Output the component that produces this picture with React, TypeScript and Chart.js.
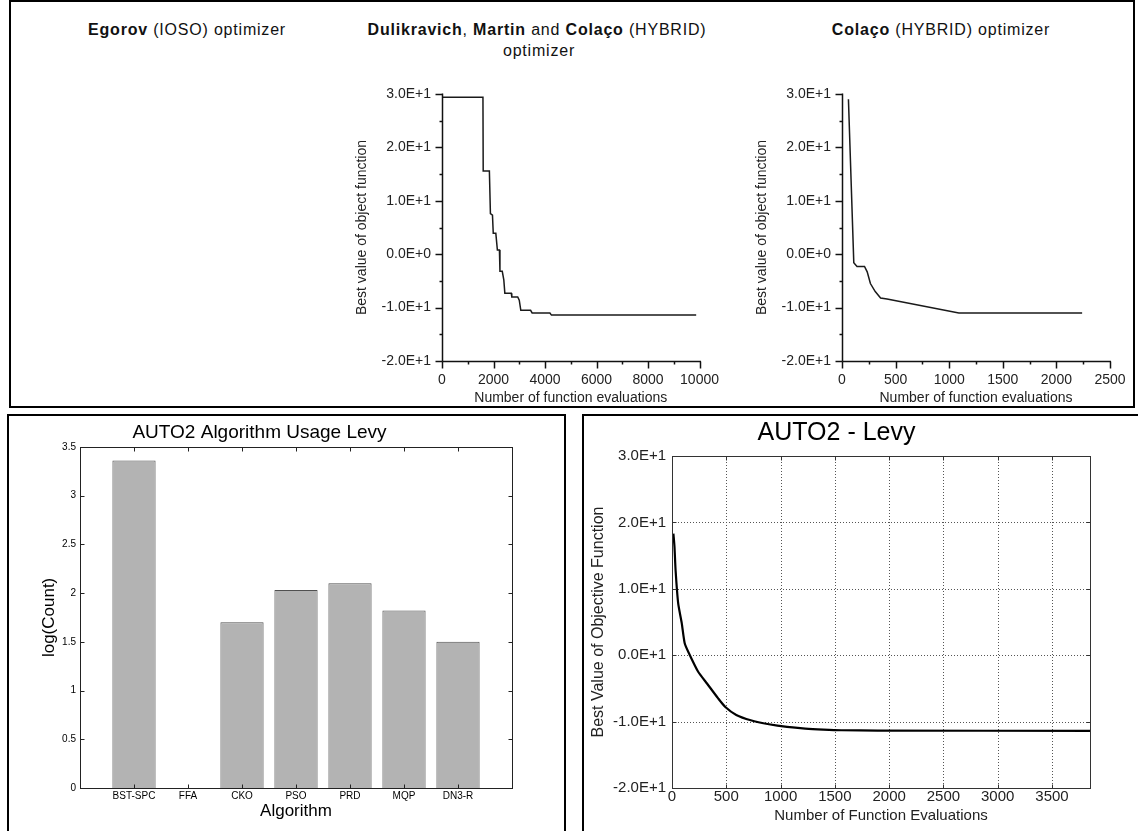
import React, { useEffect, useRef } from 'react';
import { Chart, registerables } from 'chart.js';

Chart.register(...registerables);

const FONT = "'Liberation Sans', Arial, Helvetica, sans-serif";

// ---- Top-middle: Dulikravich, Martin and Colaço (HYBRID) optimizer ----
const hybridEvals = [0, 1590, 1600, 1840, 1880, 1960, 1990, 2090, 2150, 2230, 2250, 2340, 2400, 2440, 2690, 2710, 2940, 3000, 3060, 3440, 3500, 4190, 4250, 9870];
const hybridBest = [29.4, 29.4, 15.6, 15.6, 7.6, 7.3, 3.9, 3.9, 0.8, 0.8, -3.2, -3.2, -4.8, -7.3, -7.3, -8.0, -8.0, -8.6, -10.5, -10.5, -11.0, -11.0, -11.4, -11.4];
const hybridXTicks = [0, 2000, 4000, 6000, 8000, 10000];

// ---- Top-right: Colaço (HYBRID) optimizer ----
const colacoEvals = [60, 110, 140, 210, 235, 265, 310, 360, 420, 1090, 2240];
const colacoBest = [29.0, -1.6, -2.3, -2.3, -3.3, -5.5, -7.0, -8.2, -8.4, -11.0, -11.0];
const colacoXTicks = [0, 500, 1000, 1500, 2000, 2500];

const topYTicks = [-20, -10, 0, 10, 20, 30];
const topYTickLabels = ['-2.0E+1', '-1.0E+1', '0.0E+0', '1.0E+1', '2.0E+1', '3.0E+1'];

// ---- Bottom-left: AUTO2 Algorithm Usage Levy ----
const algorithms = ['BST-SPC', 'FFA', 'CKO', 'PSO', 'PRD', 'MQP', 'DN3-R'];
const logCounts = [3.36, 0, 1.7, 2.03, 2.1, 1.82, 1.5];
const barYTicks = [0, 0.5, 1, 1.5, 2, 2.5, 3, 3.5];

// ---- Bottom-right: AUTO2 - Levy ----
const levyEvals = [13, 23, 33, 57, 90, 117, 157, 241, 324, 425, 491, 592, 725, 893, 1060, 1227, 1394, 1561, 1895, 3850];
const levyBest = [18.3, 16.3, 12.8, 7.8, 4.8, 1.8, 0.25, -2.5, -4.3, -6.5, -7.8, -9.0, -9.8, -10.4, -10.8, -11.05, -11.2, -11.3, -11.35, -11.4];
const levyXTicks = [0, 500, 1000, 1500, 2000, 2500, 3000, 3500];
const levyYTicks = [-20, -10, 0, 10, 20, 30];
const levyYTickLabels = ['-2.0E+1', '-1.0E+1', '0.0E+1', '1.0E+1', '2.0E+1', '3.0E+1'];

type DecorSpec = {
  box: boolean;
  color: string;
  width: number;
  tickLen: number;
  minorLen?: number;
  inside: boolean;
  mirror: boolean;
  grid?: { color: string; dash: number[] };
};

function setTicks(values: number[]) {
  return (s: any) => {
    s.ticks = values.map((v) => ({ value: v }));
  };
}

function makeDecor(spec: DecorSpec) {
  return {
    id: 'decor',
    beforeDatasetsDraw(chart: any) {
      if (!spec.grid) return;
      const { ctx, chartArea: a, scales } = chart;
      const x = scales.x;
      const y = scales.y;
      ctx.save();
      ctx.strokeStyle = spec.grid.color;
      ctx.lineWidth = 1;
      ctx.setLineDash(spec.grid.dash);
      x.ticks.forEach((t: any) => {
        const p = Math.round(x.getPixelForValue(t.value)) + 0.5;
        if (p > a.left + 2 && p < a.right - 2) {
          ctx.beginPath();
          ctx.moveTo(p, a.top);
          ctx.lineTo(p, a.bottom);
          ctx.stroke();
        }
      });
      y.ticks.forEach((t: any) => {
        const p = Math.round(y.getPixelForValue(t.value)) + 0.5;
        if (p > a.top + 2 && p < a.bottom - 2) {
          ctx.beginPath();
          ctx.moveTo(a.left, p);
          ctx.lineTo(a.right, p);
          ctx.stroke();
        }
      });
      ctx.restore();
    },
    afterDraw(chart: any) {
      const { ctx, chartArea: a, scales } = chart;
      const x = scales.x;
      const y = scales.y;
      ctx.save();
      ctx.strokeStyle = spec.color;
      ctx.lineWidth = spec.width;
      ctx.setLineDash([]);
      const line = (x1: number, y1: number, x2: number, y2: number) => {
        ctx.beginPath();
        ctx.moveTo(x1, y1);
        ctx.lineTo(x2, y2);
        ctx.stroke();
      };
      const L = Math.round(a.left) + 0.5;
      const R = Math.round(a.right) + 0.5;
      const T = Math.round(a.top) + 0.5;
      const B = Math.round(a.bottom) + 0.5;
      if (spec.box) {
        ctx.strokeRect(L, T, R - L, B - T);
      } else {
        line(L, T - 1, L, B);
        line(L, B, R + 0.5, B);
      }
      const dir = spec.inside ? -1 : 1;
      const drawX = (v: number, len: number) => {
        const p = Math.round(x.getPixelForValue(v)) + 0.5;
        line(p, B, p, B + dir * len);
        if (spec.mirror) line(p, T, p, T - dir * len);
      };
      const drawY = (v: number, len: number) => {
        const p = Math.round(y.getPixelForValue(v)) + 0.5;
        line(L, p, L - dir * len, p);
        if (spec.mirror) line(R, p, R + dir * len, p);
      };
      const xt = x.ticks.map((t: any) => t.value);
      const yt = y.ticks.map((t: any) => t.value);
      xt.forEach((v: number) => drawX(v, spec.tickLen));
      yt.forEach((v: number) => drawY(v, spec.tickLen));
      if (spec.minorLen) {
        for (let i = 1; i < xt.length; i++) drawX((xt[i - 1] + xt[i]) / 2, spec.minorLen);
        for (let i = 1; i < yt.length; i++) drawY((yt[i - 1] + yt[i]) / 2, spec.minorLen);
      }
      ctx.restore();
    },
  };
}

function topLineConfig(evals: number[], best: number[], xMax: number, xTicks: number[], padRight: number): any {
  return {
    type: 'line',
    data: {
      datasets: [
        {
          data: evals.map((v, i) => ({ x: v, y: best[i] })),
          borderColor: '#1a1a1a',
          borderWidth: 1.5,
          pointRadius: 0,
          tension: 0,
          fill: false,
        },
      ],
    },
    options: {
      animation: false,
      responsive: false,
      events: [],
      layout: { padding: { left: 0, top: 24, right: padRight, bottom: 0 } },
      plugins: { legend: { display: false }, tooltip: { enabled: false }, title: { display: false } },
      scales: {
        x: {
          type: 'linear',
          min: 0,
          max: xMax,
          offset: false,
          afterBuildTicks: setTicks(xTicks),
          afterFit: (s: any) => {
            s.height = 49;
          },
          ticks: {
            autoSkip: false,
            maxRotation: 0,
            padding: 11,
            color: '#222',
            font: { family: FONT, size: 14 },
            callback: (v: number) => String(v),
          },
          grid: { display: false, drawTicks: false },
          border: { display: false },
          title: {
            display: true,
            text: 'Number of function evaluations',
            color: '#222',
            font: { family: FONT, size: 14 },
            padding: { top: 0, bottom: 3 },
          },
        },
        y: {
          type: 'linear',
          min: -20,
          max: 30,
          afterBuildTicks: setTicks(topYTicks),
          afterFit: (s: any) => {
            s.width = 112;
          },
          ticks: {
            padding: 11,
            color: '#222',
            font: { family: FONT, size: 14 },
            callback: (v: number) => topYTickLabels[topYTicks.indexOf(v)],
          },
          grid: { display: false, drawTicks: false },
          border: { display: false },
          title: {
            display: true,
            text: 'Best value of object function',
            color: '#222',
            font: { family: FONT, size: 14 },
            padding: { top: 24, bottom: 0 },
          },
        },
      },
    },
    plugins: [makeDecor({ box: false, color: '#111', width: 1.5, tickLen: 7, minorLen: 3, inside: false, mirror: false })],
  };
}

function barConfig(): any {
  return {
    type: 'bar',
    data: {
      datasets: [
        {
          data: algorithms.map((a, i) => ({ x: i + 1, y: logCounts[i] })),
          backgroundColor: '#b3b3b3',
          borderColor: '#505050',
          borderWidth: (c: any) => (c.raw && c.raw.y === 0 ? 0 : 1),
          borderSkipped: 'start',
          categoryPercentage: 1,
          barPercentage: 0.8,
        },
      ],
    },
    options: {
      animation: false,
      responsive: false,
      events: [],
      layout: { padding: { left: 0, top: 0, right: 53, bottom: 0 } },
      plugins: {
        legend: { display: false },
        tooltip: { enabled: false },
        title: {
          display: true,
          text: 'AUTO2 Algorithm Usage Levy',
          color: '#000',
          font: { family: FONT, size: 19, weight: 'normal' },
          padding: { top: 6, bottom: 3 },
        },
      },
      scales: {
        x: {
          type: 'linear',
          min: 0,
          max: 8,
          offset: false,
          afterBuildTicks: setTicks(algorithms.map((_, i) => i + 1)),
          afterFit: (s: any) => {
            s.height = 43;
          },
          ticks: {
            autoSkip: false,
            maxRotation: 0,
            padding: 2,
            color: '#000',
            font: { family: FONT, size: 10 },
            callback: (v: number) => algorithms[v - 1] ?? '',
          },
          grid: { display: false, drawTicks: false, offset: false },
          border: { display: false },
          title: {
            display: true,
            text: 'Algorithm',
            color: '#000',
            font: { family: FONT, size: 17 },
            padding: { top: 0, bottom: 9 },
          },
        },
        y: {
          type: 'linear',
          min: 0,
          max: 3.5,
          afterBuildTicks: setTicks(barYTicks),
          afterFit: (s: any) => {
            s.width = 73;
          },
          ticks: {
            padding: 4,
            color: '#000',
            font: { family: FONT, size: 10 },
            callback: (v: number) => String(v),
          },
          grid: { display: false, drawTicks: false },
          border: { display: false },
          title: {
            display: true,
            text: 'log(Count)',
            color: '#000',
            font: { family: FONT, size: 17 },
            padding: { top: 32, bottom: 0 },
          },
        },
      },
    },
    plugins: [
      makeDecor({
        box: true,
        color: '#222',
        width: 1,
        tickLen: 4,
        inside: true,
        mirror: true,
      }),
    ],
  };
}

function levyConfig(): any {
  return {
    type: 'line',
    data: {
      datasets: [
        {
          data: levyEvals.map((v, i) => ({ x: v, y: levyBest[i] })),
          borderColor: '#000',
          borderWidth: 2.2,
          pointRadius: 0,
          tension: 0.2,
          fill: false,
        },
      ],
    },
    options: {
      animation: false,
      responsive: false,
      events: [],
      layout: { padding: { left: 0, top: 0, right: 48, bottom: 0 } },
      plugins: {
        legend: { display: false },
        tooltip: { enabled: false },
        title: {
          display: true,
          text: 'AUTO2 - Levy',
          color: '#000',
          font: { family: FONT, size: 25, weight: 'normal' },
          padding: { top: 3, bottom: 8 },
        },
      },
      scales: {
        x: {
          type: 'linear',
          min: 0,
          max: 3850,
          offset: false,
          afterBuildTicks: setTicks(levyXTicks),
          afterFit: (s: any) => {
            s.height = 43;
          },
          ticks: {
            autoSkip: false,
            maxRotation: 0,
            padding: 0,
            color: '#222',
            font: { family: FONT, size: 15 },
            callback: (v: number) => String(v),
          },
          grid: { display: false, drawTicks: false },
          border: { display: false },
          title: {
            display: true,
            text: 'Number of Function Evaluations',
            color: '#222',
            font: { family: FONT, size: 15 },
            padding: { top: 0, bottom: 6 },
          },
        },
        y: {
          type: 'linear',
          min: -20,
          max: 30,
          afterBuildTicks: setTicks(levyYTicks),
          afterFit: (s: any) => {
            s.width = 89;
          },
          ticks: {
            padding: 6,
            color: '#222',
            font: { family: FONT, size: 15 },
            callback: (v: number) => levyYTickLabels[levyYTicks.indexOf(v)],
          },
          grid: { display: false, drawTicks: false },
          border: { display: false },
          title: {
            display: true,
            text: 'Best Value of Objective Function',
            color: '#222',
            font: { family: FONT, size: 16 },
            padding: { top: 6, bottom: 0 },
          },
        },
      },
    },
    plugins: [
      makeDecor({
        box: true,
        color: '#333',
        width: 1,
        tickLen: 4,
        inside: true,
        mirror: true,
        grid: { color: '#555', dash: [1, 2] },
      }),
    ],
  };
}

function ChartBox(props: { left: number; top: number; width: number; height: number; make: () => any }) {
  const ref = useRef<HTMLCanvasElement | null>(null);
  useEffect(() => {
    const chart = new Chart(ref.current as HTMLCanvasElement, props.make());
    return () => chart.destroy();
  }, []);
  return (
    <div style={{ position: 'absolute', left: props.left, top: props.top, width: props.width, height: props.height }}>
      <canvas ref={ref} width={props.width} height={props.height} style={{ display: 'block', width: props.width, height: props.height }} />
    </div>
  );
}

const headStyle: React.CSSProperties = {
  position: 'absolute',
  transform: 'translateX(-50%)',
  whiteSpace: 'nowrap',
  fontSize: 16,
  lineHeight: '18px',
  letterSpacing: '0.8px',
  color: '#111',
  fontFamily: FONT,
};

export default function App() {
  return (
    <div
      style={{
        position: 'absolute',
        left: 0,
        top: 0,
        width: 1138,
        height: 831,
        overflow: 'hidden',
        background: '#fff',
        fontFamily: FONT,
      }}
    >
      {/* top frame */}
      <div style={{ position: 'absolute', left: 9, top: 0, width: 1126, height: 408, border: '2px solid #000', boxSizing: 'border-box' }} />
      {/* bottom-left frame */}
      <div style={{ position: 'absolute', left: 7, top: 414, width: 559, height: 440, border: '2px solid #000', boxSizing: 'border-box' }} />
      {/* bottom-right frame */}
      <div style={{ position: 'absolute', left: 582, top: 414, width: 620, height: 440, border: '2px solid #000', boxSizing: 'border-box' }} />

      <div style={{ ...headStyle, left: 187, top: 21 }}>
        <b>Egorov</b> (IOSO) optimizer
      </div>
      <div style={{ ...headStyle, left: 537, top: 21 }}>
        <b>Dulikravich</b>, <b>Martin</b> and <b>Colaço</b> (HYBRID)
      </div>
      <div style={{ ...headStyle, left: 539, top: 42 }}>optimizer</div>
      <div style={{ ...headStyle, left: 941, top: 21 }}>
        <b>Colaço</b> (HYBRID) optimizer
      </div>

      <ChartBox left={330} top={70} width={400} height={340} make={() => topLineConfig(hybridEvals, hybridBest, 10000, hybridXTicks, 22)} />
      <ChartBox left={730} top={70} width={408} height={340} make={() => topLineConfig(colacoEvals, colacoBest, 2500, colacoXTicks, 28)} />
      <ChartBox left={7} top={415} width={558} height={416} make={barConfig} />
      <ChartBox left={583} top={415} width={555} height={416} make={levyConfig} />
    </div>
  );
}
